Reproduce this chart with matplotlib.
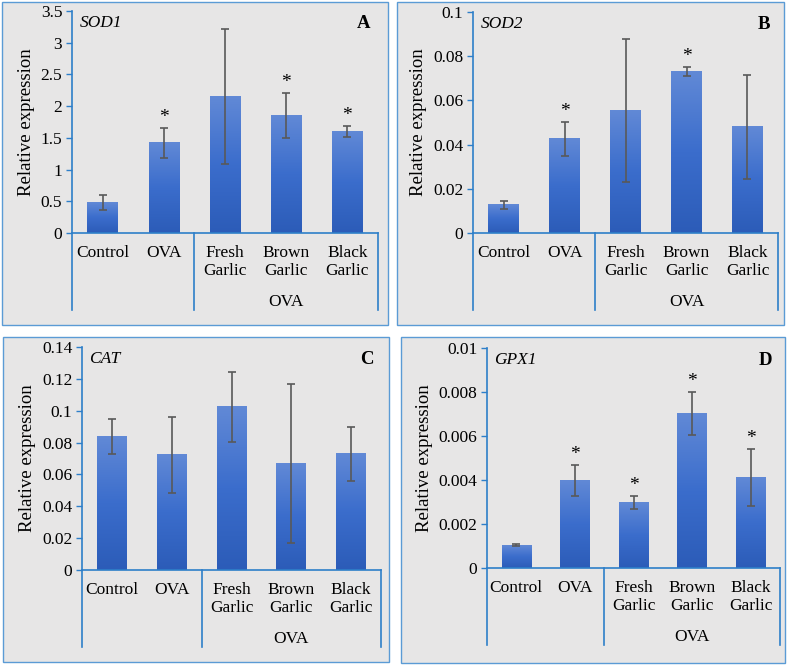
import matplotlib.pyplot as plt
import numpy as np
from matplotlib.colors import LinearSegmentedColormap
from matplotlib.patches import Rectangle

plt.rcParams['font.family'] = ['Liberation Serif', 'DejaVu Serif']

groups = ['Control', 'OVA', 'Fresh\nGarlic', 'Brown\nGarlic', 'Black\nGarlic']

sod1_mean = [0.48, 1.42, 2.15, 1.85, 1.60]
sod1_err = [0.12, 0.23, 1.06, 0.36, 0.09]
sod1_star = [False, True, False, True, True]

sod2_mean = [0.0128, 0.0427, 0.0554, 0.0731, 0.0481]
sod2_err = [0.0019, 0.0077, 0.0323, 0.0022, 0.0235]
sod2_star = [False, True, False, True, False]

cat_mean = [0.0840, 0.0723, 0.1024, 0.0670, 0.0730]
cat_err = [0.0111, 0.0238, 0.0219, 0.0499, 0.0169]
cat_star = [False, False, False, False, False]

gpx1_mean = [0.00103, 0.00398, 0.00297, 0.00701, 0.00411]
gpx1_err = [0.00004, 0.00071, 0.00030, 0.00098, 0.00128]
gpx1_star = [False, True, True, True, True]

W, H = 789, 665
AXIS_BLUE = '#2e7fc9'
FRAME_BLUE = '#5b9bd5'
PANEL_BG = '#e7e6e6'
grad = LinearSegmentedColormap.from_list('bar', ['#2c5cb8', '#3b6dcc', '#6189d6'])


def fig_box(x0, y0, x1, y1):
    return [x0 / W, 1 - y1 / H, (x1 - x0) / W, (y1 - y0) / H]


def short(t):
    return '0' if t == 0 else f'{t:.3f}'.rstrip('0').rstrip('.')


def panel(fig, frame, axbox, sep_bottom, gene, letter, mean, err, star, ymax, ystep):
    fb = fig_box(*frame)
    fig.patches.append(Rectangle(fb[:2], fb[2], fb[3], transform=fig.transFigure,
                                 facecolor=PANEL_BG, edgecolor=FRAME_BLUE,
                                 linewidth=1.0, zorder=-5))
    ax = fig.add_axes(fig_box(*axbox))
    ax.set_facecolor('none')
    x = np.arange(len(groups))
    width = 0.5
    grad_img = np.linspace(0, 1, 100).reshape(-1, 1)
    for xi, m in zip(x, mean):
        ax.imshow(grad_img, cmap=grad, origin='lower', aspect='auto',
                  extent=[xi - width / 2, xi + width / 2, 0, m], zorder=2)
    ax.errorbar(x, mean, yerr=err, fmt='none', ecolor='#595959', elinewidth=1.2,
                capsize=3, capthick=1.2, zorder=3)
    for xi, m, e, s in zip(x, mean, err, star):
        if s:
            ax.annotate('*', (xi, m + e), xytext=(0, 2), textcoords='offset pixels',
                        ha='center', va='bottom', fontsize=14)
    ax.set_xlim(-0.5, len(groups) - 0.5)
    ax.set_ylim(0, ymax)
    ticks = np.arange(0, ymax + ystep / 2, ystep)
    ax.set_yticks(ticks)
    ax.set_yticklabels([short(t) for t in ticks], fontsize=12.5)
    ax.tick_params(axis='y', colors=AXIS_BLUE, labelcolor='black', length=4, width=1, pad=3)
    ax.set_xticks([])
    for side in ['top', 'right']:
        ax.spines[side].set_visible(False)
    for side in ['left', 'bottom']:
        ax.spines[side].set_color(AXIS_BLUE)
        ax.spines[side].set_linewidth(1.2)
    ax.set_ylabel('Relative expression', fontsize=13.5, labelpad=4)

    # category labels and group separators under the axis
    ax_h = axbox[3] - axbox[1]
    drop = (sep_bottom - axbox[3]) / ax_h
    trans = ax.get_xaxis_transform()
    for sx in [-0.5, 1.5, len(groups) - 0.5]:
        ax.plot([sx, sx], [0, -drop], transform=trans, color=AXIS_BLUE,
                linewidth=1.2, clip_on=False)
    for xi, g in zip(x, groups):
        ax.annotate(g, (xi, 0), xycoords=trans, xytext=(0, -12), textcoords='offset pixels',
                    ha='center', va='top', fontsize=12.5, linespacing=1.15)
    ax.annotate('OVA', (3, 0), xycoords=trans, xytext=(0, -61), textcoords='offset pixels',
                ha='center', va='top', fontsize=12.5)

    ax.text(0.025, 0.945, gene, transform=ax.transAxes, fontsize=12.5, style='italic',
            ha='left', va='center')
    ax.text(0.975, 0.945, letter, transform=ax.transAxes, fontsize=13.5, fontweight='bold',
            ha='right', va='center')
    return ax


fig = plt.figure(figsize=(W / 100, H / 100), dpi=100)

panel(fig, (2, 2, 388, 325), (72, 11, 378, 233), 310, 'SOD1', 'A',
      sod1_mean, sod1_err, sod1_star, 3.5, 0.5)
panel(fig, (397, 2, 784, 325), (473, 12, 778, 233), 310, 'SOD2', 'B',
      sod2_mean, sod2_err, sod2_star, 0.1, 0.02)
panel(fig, (3, 337, 389, 662), (82, 347, 381, 570), 647, 'CAT', 'C',
      cat_mean, cat_err, cat_star, 0.14, 0.02)
panel(fig, (401, 337, 785, 663), (487, 348, 780, 568), 645, 'GPX1', 'D',
      gpx1_mean, gpx1_err, gpx1_star, 0.01, 0.002)

fig.savefig('out.png', dpi=100, facecolor='white')
